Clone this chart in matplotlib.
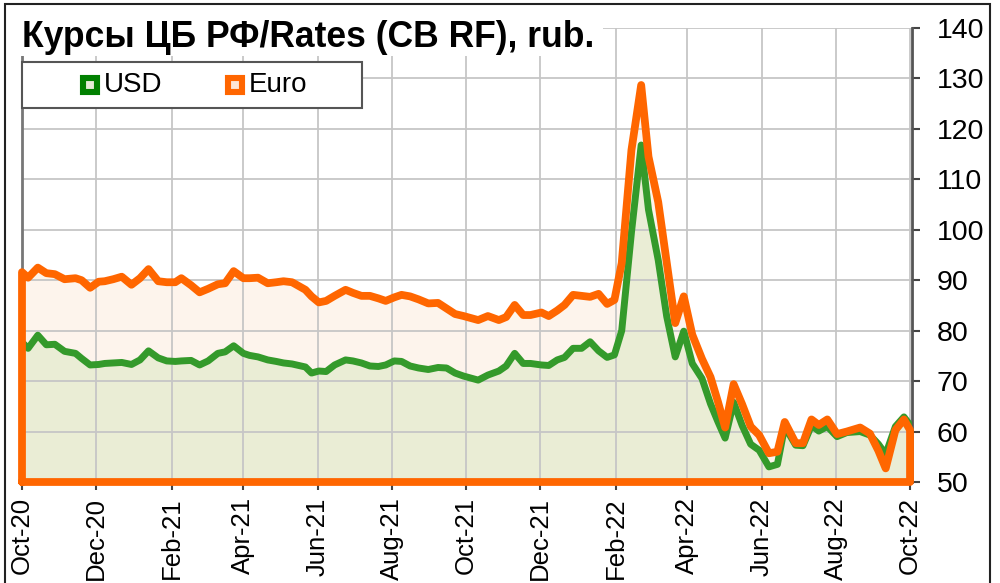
"""
Курсы ЦБ РФ / CB RF rates: USD and Euro, Oct-2020 .. Oct-2022 (rub.)
Excel-style area chart with thick borders, axis on the right.
"""
import pandas as pd
import matplotlib
matplotlib.use("Agg")
import matplotlib.pyplot as plt
import matplotlib.dates as mdates
from matplotlib.patches import Rectangle
from matplotlib.lines import Line2D

plt.rcParams["font.family"] = ["Liberation Sans", "DejaVu Sans"]

TITLE = "Курсы ЦБ РФ/Rates (CB RF), rub."

dates = [
    "2020-10-01", "2020-10-06", "2020-10-14", "2020-10-21", "2020-10-28",
    "2020-11-05", "2020-11-14", "2020-11-19", "2020-11-26", "2020-12-03",
    "2020-12-08", "2020-12-15", "2020-12-22", "2020-12-30", "2021-01-06",
    "2021-01-13", "2021-01-21", "2021-01-28", "2021-02-04", "2021-02-09",
    "2021-02-17", "2021-02-24", "2021-03-03", "2021-03-11", "2021-03-17",
    "2021-03-24", "2021-04-01", "2021-04-06", "2021-04-13", "2021-04-21",
    "2021-04-28", "2021-05-04", "2021-05-11", "2021-05-22", "2021-05-27",
    "2021-06-02", "2021-06-08", "2021-06-15", "2021-06-24", "2021-06-30",
    "2021-07-07", "2021-07-14", "2021-07-21", "2021-07-27", "2021-08-03",
    "2021-08-09", "2021-08-16", "2021-08-23", "2021-08-31", "2021-09-08",
    "2021-09-15", "2021-09-22", "2021-09-29", "2021-10-05", "2021-10-11",
    "2021-10-19", "2021-10-28", "2021-11-03", "2021-11-10", "2021-11-17",
    "2021-11-23", "2021-12-02", "2021-12-08", "2021-12-15", "2021-12-21",
    "2021-12-28", "2022-01-04", "2022-01-11", "2022-01-18", "2022-01-25",
    "2022-01-31", "2022-02-06", "2022-02-14", "2022-02-22", "2022-02-28",
    "2022-03-08", "2022-03-15", "2022-03-22", "2022-03-29", "2022-04-05",
    "2022-04-13", "2022-04-20", "2022-04-26", "2022-05-02", "2022-05-09",
    "2022-05-16", "2022-05-23", "2022-05-30", "2022-06-07", "2022-06-14",
    "2022-06-20", "2022-06-29", "2022-07-05", "2022-07-12", "2022-07-18",
    "2022-07-25", "2022-08-02", "2022-08-10", "2022-08-21", "2022-08-29",
    "2022-09-05", "2022-09-11", "2022-09-19", "2022-09-26", "2022-10-01",
]

usd = [
    77.7, 76.5, 79.1, 77.2, 77.3, 75.9, 75.5, 74.5, 73.2, 73.3,
    73.5, 73.6, 73.7, 73.3, 74.2, 76.0, 74.6, 74.0, 73.9, 74.0,
    74.1, 73.2, 74.0, 75.5, 75.8, 77.0, 75.5, 75.1, 74.8, 74.2,
    73.9, 73.6, 73.4, 72.8, 71.6, 72.0, 71.9, 73.2, 74.2, 74.0,
    73.6, 73.0, 72.9, 73.2, 74.0, 73.9, 73.0, 72.6, 72.3, 72.7,
    72.6, 71.6, 71.0, 70.6, 70.2, 71.2, 72.0, 73.0, 75.5, 73.5,
    73.5, 73.2, 73.1, 74.2, 74.7, 76.5, 76.5, 77.8, 76.0, 74.7,
    75.2, 80.0, 99.5, 116.8, 104.0, 94.0, 82.8, 74.8, 79.9, 73.5,
    70.5, 65.5, 62.0, 58.7, 65.8, 61.2, 57.5, 56.3, 53.0, 53.5,
    61.0, 57.3, 57.2, 61.2, 60.1, 61.0, 59.0, 59.8, 60.0, 59.3,
    57.5, 55.5, 61.0, 62.9, 61.3,
]

euro = [
    91.6, 90.5, 92.5, 91.4, 91.2, 90.2, 90.4, 90.0, 88.5, 89.7,
    89.8, 90.2, 90.7, 89.1, 90.4, 92.2, 89.8, 89.6, 89.6, 90.4,
    89.0, 87.6, 88.3, 89.2, 89.4, 91.8, 90.4, 90.4, 90.5, 89.4,
    89.6, 89.8, 89.6, 88.1, 86.8, 85.6, 85.9, 86.9, 88.1, 87.5,
    86.9, 86.9, 86.4, 85.9, 86.6, 87.1, 86.8, 86.2, 85.4, 85.5,
    84.4, 83.3, 82.9, 82.5, 82.1, 82.9, 82.1, 82.7, 85.1, 83.1,
    83.1, 83.6, 82.9, 84.0, 85.1, 87.1, 86.9, 86.7, 87.3, 85.3,
    86.1, 93.4, 115.8, 128.7, 114.5, 105.5, 93.5, 81.5, 86.8, 79.2,
    74.4, 70.8, 66.0, 60.8, 69.4, 65.4, 61.0, 59.3, 55.7, 56.0,
    61.9, 57.7, 57.7, 62.4, 61.3, 62.4, 59.5, 60.0, 60.8, 59.6,
    56.2, 52.7, 60.3, 62.4, 60.3,
]

Y_MIN, Y_MAX = 50, 140
ORANGE = "#ff6600"
GREEN = "#349a2b"
GREEN_DARK = "#008000"
EURO_FILL = "#fdf4ec"
USD_FILL = "#eaedd5"

W, H = 1000, 583


def px(x, y):
    """pixel (from top-left) -> figure fraction"""
    return x / W, 1 - y / H


def main():
    d = pd.to_datetime(dates)
    fig = plt.figure(figsize=(10, 5.83), dpi=100)
    ax = fig.add_axes([0.022, 1 - 482 / H, 0.890, 454 / H])

    # areas
    ax.fill_between(d, euro, Y_MIN, color=EURO_FILL, lw=0, zorder=0.3)
    ax.fill_between(d, usd, Y_MIN, color=USD_FILL, lw=0, zorder=0.4)
    ax.set_axisbelow("line")
    ax.grid(True, color="#c6c6c6", lw=1.3)

    ax.plot(d, usd, color=GREEN, lw=5.0, solid_joinstyle="round",
            solid_capstyle="round", zorder=3)
    # euro area border incl. the sides and the bottom
    ex = [d[0]] + list(d) + [d[-1], d[0]]
    ey = [Y_MIN] + euro + [Y_MIN, Y_MIN]
    ax.plot(ex, ey, color=ORANGE, lw=5.6, solid_joinstyle="round",
            solid_capstyle="round", zorder=4, clip_on=False)

    ax.set_xlim(pd.Timestamp("2020-10-01"), pd.Timestamp("2022-10-02 15:00"))
    ax.set_ylim(Y_MIN, Y_MAX)
    ax.set_xticks(pd.date_range("2020-10-01", "2022-10-01", freq="2MS"))
    ax.xaxis.set_major_formatter(mdates.DateFormatter("%b-%y"))
    ax.set_yticks(range(Y_MIN, Y_MAX + 1, 10))
    ax.yaxis.tick_right()
    ax.tick_params(axis="x", labelsize=18.5, rotation=90, length=6, width=1.5,
                   color="#444444", pad=5)
    ax.tick_params(axis="y", labelsize=20.5, length=6, width=1.5,
                   color="#444444", pad=12)
    for lab in ax.get_xticklabels():
        lab.set_va("top")

    ax.spines["top"].set_visible(False)
    ax.spines["bottom"].set_visible(False)
    ax.spines["left"].set_color("#777777")
    ax.spines["left"].set_linewidth(2)
    ax.spines["right"].set_color("#555555")
    ax.spines["right"].set_linewidth(2)

    # title with white box over the plot area
    x0, y0 = px(6, 56)
    fig.add_artist(Rectangle((x0, y0), 597 / W, 52 / H, transform=fig.transFigure,
                             facecolor="white", edgecolor="none", zorder=5))
    fig.text(*px(22, 47), TITLE, fontsize=25.6, fontweight="bold", va="baseline",
             ha="left", zorder=6)

    # legend
    lx, ly = px(22, 108)
    fig.add_artist(Rectangle((lx, ly), 340 / W, 46 / H, transform=fig.transFigure,
                             facecolor="white", edgecolor="#555555", lw=1.5, zorder=6))
    for cx, tx, edge, inner, name in [(90, 104, GREEN_DARK, "#e4ecd8", "USD"),
                                      (235, 249, ORANGE, "#fde6d6", "Euro")]:
        mx, my = px(cx, 85)
        fig.add_artist(Line2D([mx], [my], transform=fig.transFigure, marker="s",
                              markersize=10, markeredgewidth=4.4, markeredgecolor=edge,
                              markerfacecolor=inner, zorder=7))
        fig.text(*px(tx, 85), name, fontsize=20, va="center", ha="left", zorder=7)

    # outer frame
    fx, fy = px(5, 600)
    fig.add_artist(Rectangle((fx, fy), 985 / W, 596 / H, transform=fig.transFigure,
                             facecolor="none", edgecolor="#222222", lw=1.5, zorder=10))

    fig.savefig("out.png", dpi=100)


if __name__ == "__main__":
    main()
